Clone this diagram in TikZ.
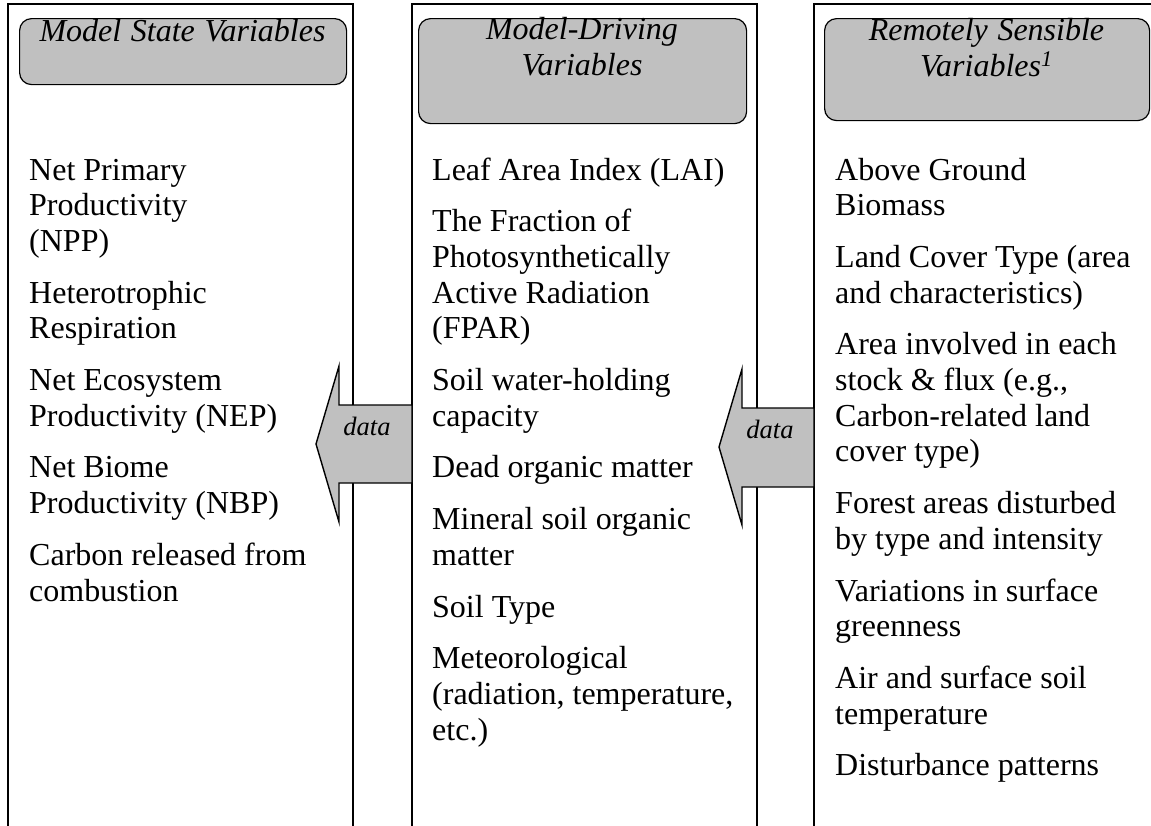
\documentclass[tikz,border=0pt]{standalone}
\usepackage{fontspec}
\setmainfont{Liberation Serif}
\definecolor{headgray}{HTML}{C0C0C0}
% interword spaces for the column texts and the titles
\newcommand\listspacing{\spaceskip=0.25em\relax}
\newcommand\titlespacing{\spaceskip=0.3em\relax}
\begin{document}
\begin{tikzpicture}[x=1pt,y=-1pt,
  column/.style={line width=1.6pt, line join=miter},
  header/.style={draw, line width=1.2pt, fill=headgray, rounded corners=12pt, inner sep=0pt, anchor=north west},
  title/.style={font=\fontsize{32}{36}\selectfont\itshape, align=center, text width=320pt, anchor=base, inner sep=0pt},
  items/.style={font=\fontsize{32}{35.7}\selectfont, align=left, text width=330pt, anchor=base west, inner sep=0pt},
  blockarrow/.style={draw, fill=headgray, line width=1.4pt, line join=miter},
  arrowlabel/.style={font=\fontsize{26.5}{30}\selectfont\itshape, anchor=base, inner sep=0pt}
]
\useasboundingbox (0,0) rectangle (1151,825);

% three open-bottomed columns
\begin{scope}
  \clip (0,0) rectangle (1151,825);
  \draw[column] (8,840) -- (8,4) -- (353,4) -- (353,840);
  \draw[column] (412,840) -- (412,4) -- (757,4) -- (757,840);
  \draw[column] (814,840) -- (814,4) -- (1160,4);
\end{scope}

% "data" block arrows between the columns
\draw[blockarrow] (412,405) -- (339,405) -- (339,366) -- (316,444)
  -- (339,522) -- (339,483) -- (412,483) -- cycle;
\draw[blockarrow] (814,408) -- (742,408) -- (742,369) -- (719,447)
  -- (742,525) -- (742,487) -- (814,487) -- cycle;
\node[arrowlabel] (d1) at (367,435) {data};
\node[arrowlabel] (d2) at (770,438) {data};

% column headers
\node[header, minimum width=327pt, minimum height=66pt] (h1) at (19,18) {};
\node[header, minimum width=328pt, minimum height=105pt] (h2) at (418,18) {};
\node[header, minimum width=325pt, minimum height=102pt] (h3) at (824,18) {};
\node[title] (t1) at (182.5,41) {\titlespacing Model State Variables};
\node[title] (t2) at (582,39) {\titlespacing Model-Driving\\Variables};
\node[title] (t3) at (986.5,40) {\titlespacing Remotely Sensible\\Variables\textsuperscript{1}};

% column contents
\node[items] (c1) at (29,180) {\listspacing Net Primary\\Productivity\\(NPP)\\[16pt]
  Heterotrophic\\Respiration\\[16pt]
  Net Ecosystem\\Productivity (NEP)\\[16pt]
  Net Biome\\Productivity (NBP)\\[16pt]
  Carbon released from\\combustion};
\node[items] (c2) at (432,180) {\listspacing Leaf Area Index (LAI)\\[16pt]
  The Fraction of\\Photosynthetically\\Active Radiation\\(FPAR)\\[16pt]
  Soil water-holding\\capacity\\[16pt]
  Dead organic matter\\[16pt]
  Mineral soil organic\\matter\\[16pt]
  Soil Type\\[16pt]
  Meteorological\\(radiation, temperature,\\etc.)};
\node[items] (c3) at (835,180) {\listspacing Above Ground\\Biomass\\[16pt]
  Land Cover Type (area\\and characteristics)\\[16pt]
  Area involved in each\\stock \& flux (e.g.,\\Carbon-related land\\cover type)\\[16pt]
  Forest areas disturbed\\by type and intensity\\[16pt]
  Variations in surface\\greenness\\[16pt]
  Air and surface soil\\temperature\\[16pt]
  Disturbance patterns};
\end{tikzpicture}
\end{document}
